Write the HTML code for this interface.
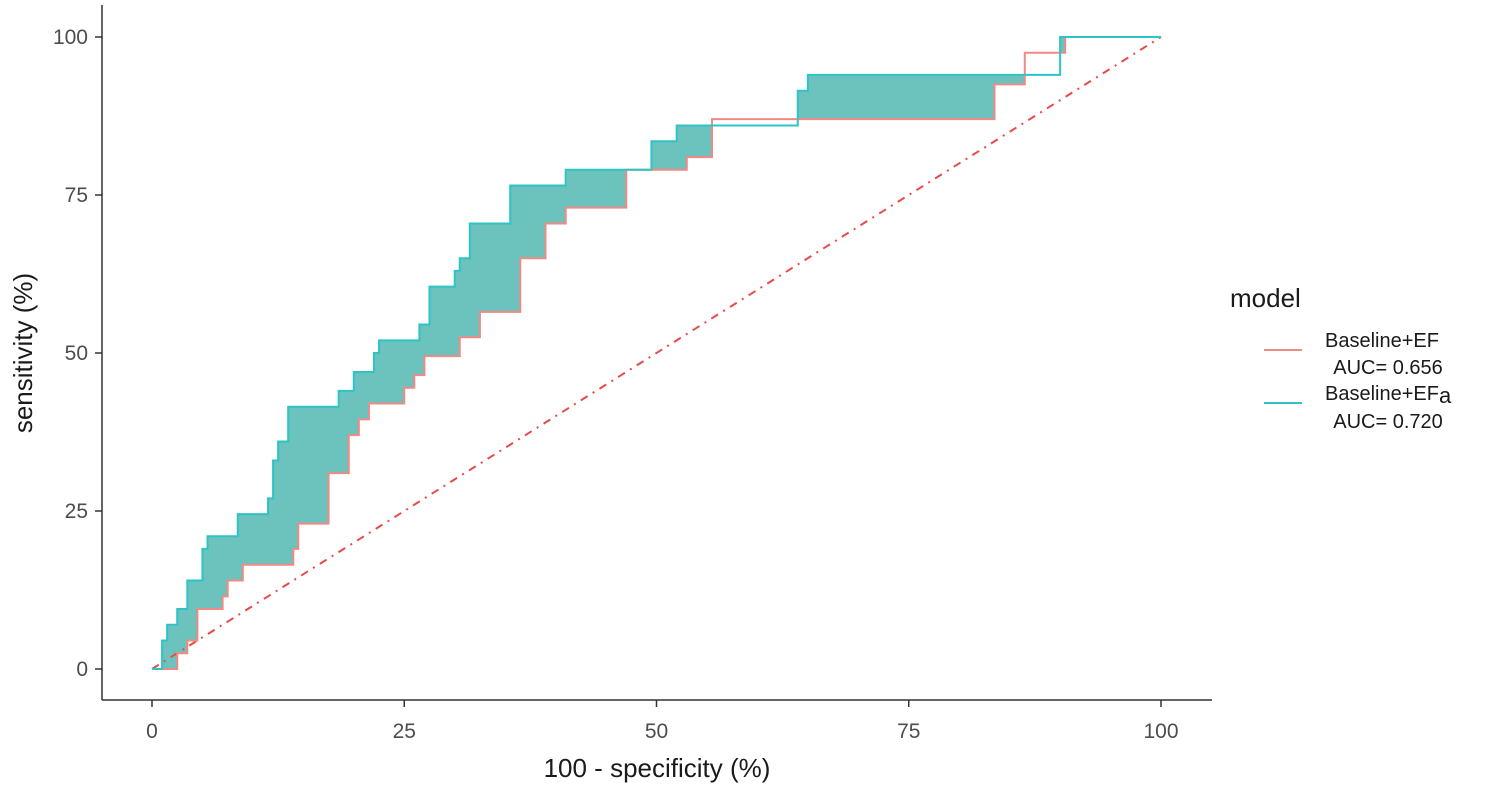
<!DOCTYPE html>
<html><head><meta charset="utf-8"><style>
html,body{margin:0;padding:0;background:#fff;}
svg{display:block;font-family:"Liberation Sans",Arial,sans-serif;}
</style></head><body>
<svg id="chart" width="1500" height="792" viewBox="0 0 1500 792">
  <g id="fill"></g>
  <g id="lines"></g>
  <line x1="102" y1="5" x2="102" y2="700" stroke="#333" stroke-width="1.5"/>
  <line x1="102" y1="700" x2="1212" y2="700" stroke="#333" stroke-width="1.5"/>
  <g id="ticks"></g>
  <text x="657" y="777" font-size="26" text-anchor="middle" fill="#1a1a1a">100 - specificity (%)</text>
  <text transform="translate(32,353) rotate(-90)" font-size="26" text-anchor="middle" fill="#1a1a1a">sensitivity (%)</text>
  <g>
    <text x="1230" y="307" font-size="26" fill="#1a1a1a">model</text>
    <line x1="1264" y1="350" x2="1302" y2="350" stroke="#f08a84" stroke-width="2"/>
    <text x="1325" y="347" font-size="20" fill="#1a1a1a">Baseline+EF</text>
    <text x="1388" y="374" font-size="20" text-anchor="middle" fill="#1a1a1a">AUC= 0.656</text>
    <line x1="1264" y1="403" x2="1302" y2="403" stroke="#2ec4c6" stroke-width="2"/>
    <text x="1325" y="400" font-size="20" fill="#1a1a1a">Baseline+EF<tspan font-size="22" dy="3">a</tspan></text>
    <text x="1388" y="428" font-size="20" text-anchor="middle" fill="#1a1a1a">AUC= 0.720</text>
  </g>
</svg>
<script>
const xTicks = [0, 25, 50, 75, 100];
const yTicks = [0, 25, 50, 75, 100];
const cyanX = [0,1,1,1.5,1.5,2.5,2.5,3.5,3.5,5,5,5.5,5.5,8.5,8.5,11.5,11.5,12,12,12.5,12.5,13.5,13.5,18.5,18.5,20,20,22,22,22.5,22.5,26.5,26.5,27.5,27.5,30,30,30.5,30.5,31.5,31.5,35.5,35.5,41,41,49.5,49.5,52,52,64,64,65,65,90,90,100];
const cyanY = [0,0,4.5,4.5,7,7,9.5,9.5,14,14,19,19,21,21,24.5,24.5,27,27,33,33,36,36,41.5,41.5,44,44,47,47,50,50,52,52,54.5,54.5,60.5,60.5,63,63,65,65,70.5,70.5,76.5,76.5,79,79,83.5,83.5,86,86,91.5,91.5,94,94,100,100];
const redX = [0,2.5,2.5,3.5,3.5,4.5,4.5,7,7,7.5,7.5,9,9,14,14,14.5,14.5,17.5,17.5,19.5,19.5,20.5,20.5,21.5,21.5,25,25,26,26,27,27,30.5,30.5,32.5,32.5,36.5,36.5,39,39,41,41,47,47,53,53,55.5,55.5,83.5,83.5,86.5,86.5,90.5,90.5,100];
const redY = [0,0,2.5,2.5,4.5,4.5,9.5,9.5,11.5,11.5,14,14,16.5,16.5,19,19,23,23,31,31,37,37,39.5,39.5,42,42,44.5,44.5,46.5,46.5,49.5,49.5,52.5,52.5,56.5,56.5,65,65,70.5,70.5,73,73,79,79,81,81,87,87,92.5,92.5,97.5,97.5,100,100];

const NS = "http://www.w3.org/2000/svg";
function sx(v){ return 152 + v * 10.09; }
function sy(v){ return 669 - v * 6.32; }

const ticksG = document.getElementById('ticks');
xTicks.forEach(t => {
  const l = document.createElementNS(NS,'line');
  l.setAttribute('x1', sx(t)); l.setAttribute('x2', sx(t));
  l.setAttribute('y1', 700); l.setAttribute('y2', 707);
  l.setAttribute('stroke', '#333'); l.setAttribute('stroke-width', '1.5');
  
  
  ticksG.appendChild(l);
  const tx = document.createElementNS(NS,'text');
  tx.setAttribute('x', sx(t)); tx.setAttribute('y', 738);
  tx.setAttribute('text-anchor', 'middle'); tx.setAttribute('font-size', '21');
  tx.setAttribute('fill', '#4d4d4d');
  tx.textContent = t;
  
  
  ticksG.appendChild(tx);
});
yTicks.forEach(t => {
  const l = document.createElementNS(NS,'line');
  l.setAttribute('x1', 95); l.setAttribute('x2', 102);
  l.setAttribute('y1', sy(t)); l.setAttribute('y2', sy(t));
  l.setAttribute('stroke', '#333'); l.setAttribute('stroke-width', '1.5');
  
  
  ticksG.appendChild(l);
  const tx = document.createElementNS(NS,'text');
  tx.setAttribute('x', 88); tx.setAttribute('y', sy(t) + 7);
  tx.setAttribute('text-anchor', 'end'); tx.setAttribute('font-size', '21');
  tx.setAttribute('fill', '#4d4d4d');
  tx.textContent = t;
  
  
  ticksG.appendChild(tx);
});

function valAt(xs, ys, m){
  for (let i = 0; i < xs.length - 1; i++) {
    if (ys[i] === ys[i+1] && xs[i] <= m && m <= xs[i+1] && xs[i] !== xs[i+1]) return ys[i];
  }
  return 0;
}
const brk = Array.from(new Set(cyanX.concat(redX))).sort((a,b)=>a-b);
const fillG = document.getElementById('fill');
for (let i = 0; i < brk.length - 1; i++) {
  const m = (brk[i] + brk[i+1]) / 2;
  const c = valAt(cyanX, cyanY, m), r = valAt(redX, redY, m);
  if (c > r) {
    const rc = document.createElementNS(NS,'rect');
    rc.setAttribute('x', sx(brk[i]) - 0.3);
    rc.setAttribute('width', sx(brk[i+1]) - sx(brk[i]) + 0.6);
    rc.setAttribute('y', sy(c));
    rc.setAttribute('height', sy(r) - sy(c));
    rc.setAttribute('fill', '#6cc2bc');
    
    
    fillG.appendChild(rc);
  }
}

const linesG = document.getElementById('lines');
const diag = document.createElementNS(NS,'line');
diag.setAttribute('x1', sx(0)); diag.setAttribute('y1', sy(0));
diag.setAttribute('x2', sx(100)); diag.setAttribute('y2', sy(100));
diag.setAttribute('stroke', '#e84a4a'); diag.setAttribute('stroke-width', '2');
diag.setAttribute('stroke-dasharray', '8 6 2 6');


linesG.appendChild(diag);

function poly(xs, ys, color, name){
  const p = document.createElementNS(NS,'polyline');
  p.setAttribute('points', xs.map((x,i)=> sx(x)+','+sy(ys[i])).join(' '));
  p.setAttribute('fill', 'none'); p.setAttribute('stroke', color);
  p.setAttribute('stroke-width', '2');
  
  
  linesG.appendChild(p);
}
poly(redX, redY, '#f08a84', 'roc-line-baseline-ef');
poly(cyanX, cyanY, '#2ec4c6', 'roc-line-baseline-efa');
</script>
</body></html>
